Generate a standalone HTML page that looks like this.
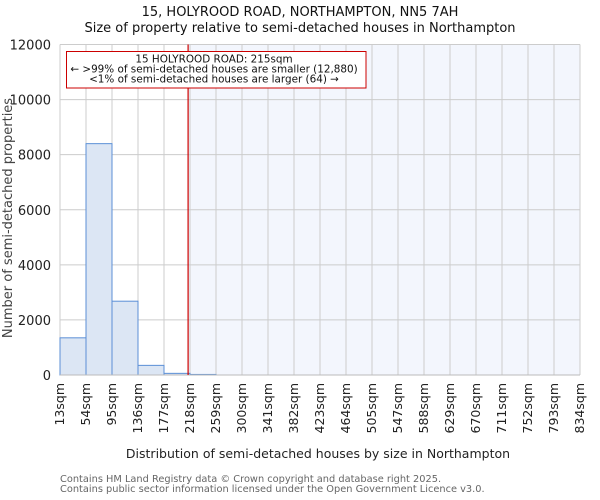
<!DOCTYPE html>
<html><head><meta charset="utf-8"><style>
body{margin:0;background:#fff}
svg{display:block;font-family:"DejaVu Sans","Liberation Sans",sans-serif}
</style></head><body>
<svg id="chart" width="600" height="500">
<text x="300" y="16" text-anchor="middle" font-size="13" fill="#111">15, HOLYROOD ROAD, NORTHAMPTON, NN5 7AH</text>
<text x="300" y="32" text-anchor="middle" font-size="13" fill="#111">Size of property relative to semi-detached houses in Northampton</text>
<g id="plot"></g>
<text x="318" y="458" text-anchor="middle" font-size="12.5" fill="#222">Distribution of semi-detached houses by size in Northampton</text>
<text transform="translate(12,218) rotate(-90)" text-anchor="middle" font-size="13" fill="#444">Number of semi-detached properties</text>
<text x="60" y="482" font-size="9.8" fill="#666">Contains HM Land Registry data © Crown copyright and database right 2025.</text>
<text x="60" y="492" font-size="9.8" fill="#666">Contains public sector information licensed under the Open Government Licence v3.0.</text>
</svg>
<script>
const binEdges=[13,54,95,136,177,218,259,300,341,382,423,464,505,547,588,629,670,711,752,793,834];
const counts=[1350,8400,2680,350,60,20,0,0,0,0,0,0,0,0,0,0,0,0,0,0];
const yTicks=[0,2000,4000,6000,8000,10000,12000];
const propertySize=215;
const NS="http://www.w3.org/2000/svg";
const g=document.getElementById('plot');
const L=60,R=580,T=44.5,B=375,YMAX=12000;
const nb=counts.length;
function xIdx(i){return L+(R-L)*i/nb;}
function xVal(v){
  for(let i=0;i<nb;i++){if(v<=binEdges[i+1]){return xIdx(i)+(v-binEdges[i])/(binEdges[i+1]-binEdges[i])*(R-L)/nb;}}
  return R;}
function y(v){return B-(B-T)*v/YMAX;}
function mk(tag,attrs){const e=document.createElementNS(NS,tag);for(const k in attrs)e.setAttribute(k,attrs[k]);g.appendChild(e);return e;}
const px=xVal(propertySize);
let e=mk('rect',{x:px,y:T,width:R-px,height:B-T,fill:'#f3f6fd'});


yTicks.forEach(t=>{
  const l=mk('line',{x1:L,x2:R,y1:y(t),y2:y(t),stroke:'#ccc','stroke-width':1});
  
  
  const tx=mk('text',{x:L-9,y:y(t)+5,'text-anchor':'end','font-size':13,fill:'#222'});
  tx.textContent=t;
  
  
});
binEdges.forEach((b,i)=>{
  const x=xIdx(i);
  const l=mk('line',{x1:x,x2:x,y1:T,y2:B,stroke:'#ccc','stroke-width':1});
  
  
  const tx=mk('text',{transform:`translate(${x+4},${383}) rotate(-90)`,'text-anchor':'end','font-size':12.5,fill:'#222'});
  tx.textContent=b+'sqm';
  
  
});
counts.forEach((c,i)=>{
  if(c<=0)return;
  const r=mk('rect',{x:xIdx(i),y:y(c),width:(R-L)/nb,height:B-y(c),fill:'#dce6f4',stroke:'#5b8fd6','stroke-width':1});
  
  
});
e=mk('line',{x1:L,x2:R,y1:B,y2:B,stroke:'#bbb','stroke-width':1});


e=mk('line',{x1:px,x2:px,y1:T,y2:B,stroke:'#cc0000','stroke-width':1.2});


e=mk('rect',{x:66.5,y:51.5,width:299.5,height:36.5,fill:'#fff',stroke:'#cc0000','stroke-width':1});


const lines=['15 HOLYROOD ROAD: 215sqm','← >99% of semi-detached houses are smaller (12,880)','<1% of semi-detached houses are larger (64) →'];
lines.forEach((s,i)=>{
  const t=mk('text',{x:214,y:62.5+i*10,'text-anchor':'middle','font-size':10.4,fill:'#111'});
  t.textContent=s;
  
  
});
</script>
</body></html>
